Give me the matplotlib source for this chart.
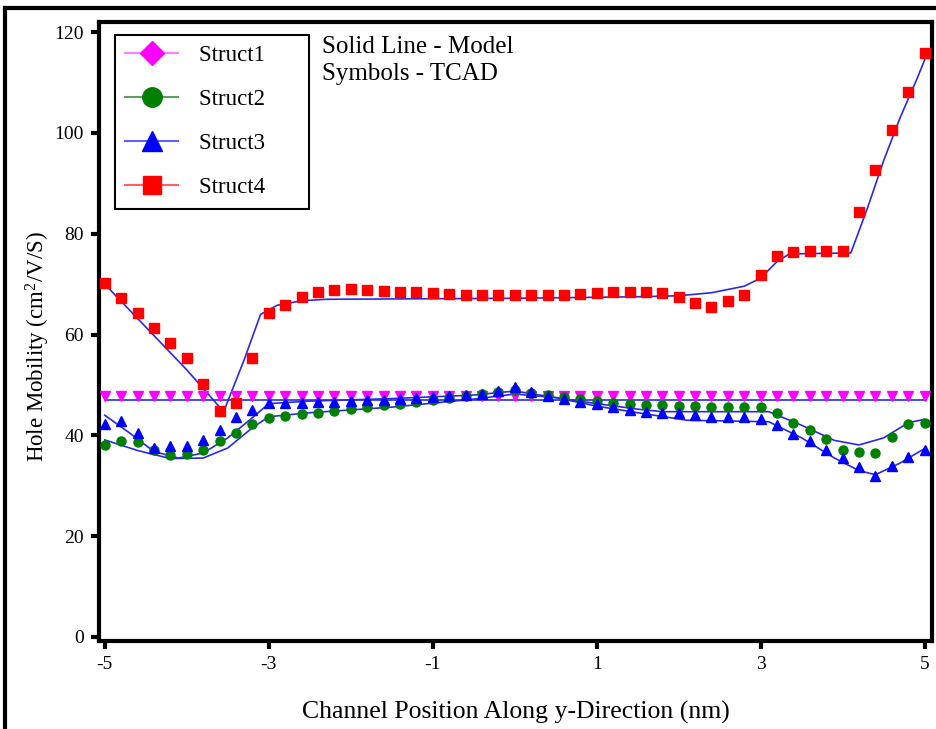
import numpy as np
import matplotlib
matplotlib.use("Agg")
import matplotlib.pyplot as plt
from matplotlib.lines import Line2D

# TCAD sample positions (nm)
x_tcad = np.linspace(-5, 5, 51)

struct1_tcad = [47.8] * 51
struct2_tcad = [38.1, 38.8, 38.6, 37.0, 36.2, 36.3, 37.1, 38.8, 40.5, 42.3,
                43.5, 43.9, 44.2, 44.5, 44.8, 45.2, 45.6, 46.0, 46.3, 46.7,
                47.0, 47.4, 47.8, 48.2, 48.6, 49.0, 48.5, 48.0, 47.6, 47.2,
                46.8, 46.5, 46.3, 46.1, 46.0, 45.9, 45.8, 45.7, 45.7, 45.7,
                45.6, 44.5, 42.5, 41.1, 39.2, 37.1, 36.8, 36.6, 39.6, 42.3, 42.5]
struct3_tcad = [42.3, 42.8, 40.4, 37.4, 37.8, 37.8, 39.1, 41.1, 43.7, 45.0,
                46.4, 46.5, 46.5, 46.6, 46.7, 46.8, 47.0, 47.1, 47.2, 47.4,
                47.6, 47.8, 48.0, 48.3, 48.8, 49.5, 48.6, 47.8, 47.2, 46.7,
                46.2, 45.7, 45.0, 44.7, 44.4, 44.4, 44.0, 43.7, 43.7, 43.7,
                43.2, 42.1, 40.3, 38.8, 37.1, 35.5, 33.7, 31.9, 33.9, 35.8, 37.1]
struct4_tcad = [70.2, 67.2, 64.3, 61.3, 58.3, 55.4, 50.2, 44.8, 46.4, 55.3,
                64.2, 65.9, 67.4, 68.4, 68.8, 69.1, 68.9, 68.7, 68.5, 68.4,
                68.2, 68.0, 67.8, 67.8, 67.8, 67.8, 67.8, 67.8, 67.9, 68.0,
                68.2, 68.4, 68.5, 68.5, 68.2, 67.5, 66.2, 65.5, 66.6, 67.9,
                71.8, 75.5, 76.4, 76.5, 76.5, 76.5, 84.4, 92.7, 100.5, 108.2, 115.9]

# model curves (solid lines)
m1_x = [-5, 5]
m1_y = [47.1, 47.1]
m2_x = [-5, -4.6, -4.2, -3.8, -3.5, -3.2, -3.0, -2.5, -1.5, -0.5, 0, 0.5,
        1.0, 1.5, 1.8, 3.1, 3.5, 3.9, 4.2, 4.5, 4.8, 5.0]
m2_y = [39.1, 37.0, 35.4, 35.5, 37.5, 41.5, 43.7, 44.5, 45.6, 47.2, 48.2, 47.5,
        46.3, 45.2, 44.7, 44.7, 42.0, 39.0, 38.1, 39.5, 42.5, 43.2]
m3_x = [-5, -4.7, -4.4, -4.1, -3.8, -3.5, -3.2, -3.0, -2.5, -1.5, -0.5, 0,
        0.5, 1.0, 1.5, 2.1, 3.1, 3.5, 3.9, 4.2, 4.4, 4.7, 5.0]
m3_y = [44.0, 40.5, 36.8, 35.5, 36.5, 39.5, 43.5, 46.3, 46.8, 47.3, 48.0, 48.8,
        47.5, 45.8, 44.5, 43.0, 42.7, 39.5, 35.5, 33.0, 32.2, 34.5, 37.4]
m4_x = [-5, -4.5, -4, -3.55, -3.3, -3.1, -2.9, -2.6, -2.3, 0, 1.5, 2.0, 2.4,
        2.8, 3.0, 3.2, 3.35, 4.1, 4.3, 4.5, 4.7, 4.9, 5.0]
m4_y = [70, 61.5, 53, 44.7, 55, 64, 65.8, 66.7, 67.0, 67.2, 67.5, 67.7, 68.3,
        69.6, 71.2, 74.5, 76.0, 76.2, 85, 94.5, 103, 110.5, 114.5]

labels = ["Struct1", "Struct2", "Struct3", "Struct4"]
colors = ["#ff00ff", "#008000", "#0000ff", "#ff0000"]
xticks = [-5, -3, -1, 1, 3, 5]
yticks = [0, 20, 40, 60, 80, 100, 120]

plt.rcParams["font.family"] = ["Liberation Serif", "DejaVu Serif"]
plt.rcParams["mathtext.fontset"] = "custom"
plt.rcParams["mathtext.rm"] = "Liberation Serif"
plt.rcParams["mathtext.default"] = "regular"

fig = plt.figure(figsize=(9.37, 7.29), dpi=100)
ax = fig.add_axes([0.1057, 0.1207, 0.889, 0.849])

line_c = "#2a2ae6"
for mx, my in [(m1_x, m1_y), (m2_x, m2_y), (m3_x, m3_y), (m4_x, m4_y)]:
    ax.plot(mx, my, color=line_c, lw=1.2, zorder=2)

ax.plot(x_tcad, struct1_tcad, ls="none", marker="v", ms=6.5, color=colors[0], zorder=3)
ax.plot(x_tcad, struct2_tcad, ls="none", marker="o", ms=6.5, color=colors[1], zorder=3)
ax.plot(x_tcad, struct3_tcad, ls="none", marker="^", ms=7, color=colors[2], zorder=4)
ax.plot(x_tcad, struct4_tcad, ls="none", marker="s", ms=7, color=colors[3], zorder=3)

ax.set_xlim(-5.07, 5.09)
ax.set_ylim(-0.8, 122)
ax.set_xticks(xticks)
ax.set_yticks(yticks)
ax.set_xticklabels([str(t) for t in xticks])
ax.tick_params(axis="both", direction="out", width=3, length=6, labelsize=14, pad=5)
for s in ax.spines.values():
    s.set_linewidth(3)

ax.set_xlabel("Channel Position Along y-Direction (nm)", fontsize=18.5, labelpad=20)
ax.set_ylabel("Hole Mobility (cm$^2$/V/S)", fontsize=16.5)
ax.yaxis.set_label_coords(-0.057, 0.475)

handles = [
    Line2D([], [], color="#ff80ff", lw=1.5, marker="D", ms=12, mfc=colors[0], mec=colors[0]),
    Line2D([], [], color="#60a060", lw=1.5, marker="o", ms=14, mfc=colors[1], mec=colors[1]),
    Line2D([], [], color="#6060ff", lw=1.5, marker="^", ms=14, mfc=colors[2], mec=colors[2]),
    Line2D([], [], color="#ff6060", lw=1.5, marker="s", ms=13, mfc=colors[3], mec=colors[3]),
]
leg = ax.legend(handles, [l + "      " for l in labels], loc="upper left",
                bbox_to_anchor=(0.019, 0.979), borderaxespad=0, fontsize=16.5,
                frameon=True, fancybox=False, framealpha=1, edgecolor="black",
                handlelength=2.3, labelspacing=1.0, borderpad=0.45, handletextpad=0.9)
leg.get_frame().set_linewidth(1.5)

ax.text(0.268, 0.978, "Solid Line - Model\nSymbols - TCAD", transform=ax.transAxes,
        fontsize=18, va="top", ha="left", linespacing=1.3,
        family=["Liberation Serif", "DejaVu Serif"])

# outer frame of the picture (left and top edges visible)
fig.add_artist(Line2D([5 / 937, 5 / 937], [0, 1 - 8 / 729], transform=fig.transFigure,
                      color="black", lw=3))
fig.add_artist(Line2D([5 / 937, 1], [1 - 8 / 729, 1 - 8 / 729], transform=fig.transFigure,
                      color="black", lw=3))

fig.savefig("out.png", dpi=100)
